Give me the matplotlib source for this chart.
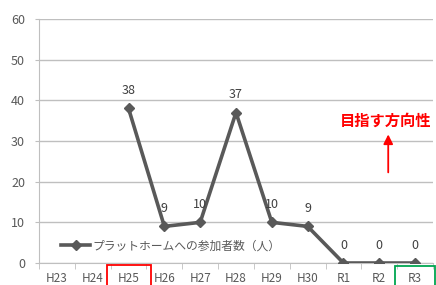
import numpy as np
import matplotlib.pyplot as plt
from matplotlib.patches import Rectangle

plt.rcParams['font.family'] = ['Noto Sans CJK JP', 'DejaVu Sans']

# data
years = ['H23', 'H24', 'H25', 'H26', 'H27', 'H28', 'H29', 'H30', 'R1', 'R2', 'R3']
counts = [np.nan, np.nan, 38, 9, 10, 37, 10, 9, 0, 0, 0]
series_name = 'プラットホームへの参加者数（人）'
y_ticks = [0, 10, 20, 30, 40, 50, 60]

grey = '#595959'
fig = plt.figure(figsize=(4.36, 2.85), dpi=100)
ax = fig.add_axes([39/436, 22/285, 394/436, 244/285])

x = np.arange(len(years))
ax.plot(x, counts, color=grey, lw=2.6, marker='D', ms=5, label=series_name, zorder=3)
for xi, v in zip(x, counts):
    if not np.isnan(v):
        ax.annotate(f'{v:.0f}', (xi, v), xytext=(0, 8), textcoords='offset points',
                    ha='center', va='bottom', fontsize=9, color='#404040')

ax.set_xlim(-0.5, len(years) - 0.5)
ax.set_ylim(0, 60)
ax.set_yticks(y_ticks)
ax.yaxis.grid(True, color='#bfbfbf', lw=1)
ax.set_axisbelow(True)
ax.set_xticks(x)
ax.set_xticklabels(years)
ax.set_xticks(np.arange(-0.5, len(years)), minor=True)
ax.tick_params(axis='x', which='major', length=0, pad=6.5, labelsize=8.5, labelcolor=grey)
ax.tick_params(axis='x', which='minor', length=4, color='#bfbfbf')
ax.tick_params(axis='y', length=3, color='#bfbfbf', labelsize=9, labelcolor=grey, pad=7)
for s in ['top', 'right']:
    ax.spines[s].set_visible(False)
for s in ['left', 'bottom']:
    ax.spines[s].set_color('#bfbfbf')

leg = ax.legend(loc='lower left', bbox_to_anchor=(0.03, 0.0), frameon=False,
                fontsize=8.5, handlelength=2.4, handletextpad=0.2)
for t in leg.get_texts():
    t.set_color(grey)

# annotation
fig.text(386/436, 1 - 121/285, '目指す方向性', color='red', fontsize=11,
         fontweight='bold', ha='center', va='center')
ax.annotate('', xy=(9.25, 32.3), xytext=(9.25, 21.6),
            arrowprops=dict(arrowstyle='-|>', color='red', lw=1.3, mutation_scale=14))

# highlight boxes
fig.patches.append(Rectangle((107/436, -0.05), 44/436, 20/285 + 0.05, transform=fig.transFigure,
                             fill=False, ec='red', lw=1.3))
fig.patches.append(Rectangle((395/436, -0.05), 40/436, 19/285 + 0.05, transform=fig.transFigure,
                             fill=False, ec='#00a651', lw=1.3))

fig.savefig('out.png', dpi=100)
